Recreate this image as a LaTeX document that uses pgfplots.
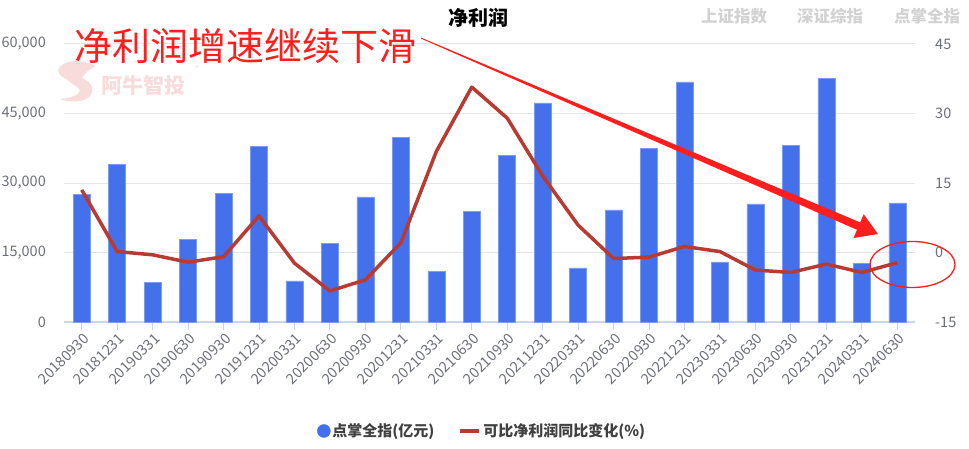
\documentclass[border=0pt]{standalone}
\usepackage{pgfplots}
\pgfplotsset{compat=1.18}
\usepackage{pgfplotstable}
\usepackage{fontspec}
\setmainfont{Noto Sans CJK SC}
\definecolor{barblue}{HTML}{4470EC}
\definecolor{linered}{HTML}{B83B33}
\definecolor{gridc}{HTML}{E6E6E6}
\definecolor{axc}{HTML}{CCD6EB}
\definecolor{labc}{HTML}{6E7079}
\definecolor{tabc}{HTML}{D2D2D2}
\definecolor{wm}{HTML}{F8DCDC}
\definecolor{annred}{HTML}{FF1E1E}

\pgfplotstableread{
x bar line
0 27600 13.5
1 34100 0.2
2 8600 -0.5
3 17900 -2.1
4 27800 -0.9
5 37900 7.9
6 8900 -2.3
7 16900 -8.3
8 27000 -5.9
9 39800 2.1
10 10900 21.8
11 23900 35.7
12 35900 29.0
13 47300 16.5
14 11700 5.9
15 24200 -1.3
16 37400 -1.0
17 51800 1.3
18 13000 0.2
19 25500 -3.8
20 38200 -4.3
21 52600 -2.5
22 12700 -4.3
23 25700 -2.2
}\data

\begin{document}
\begin{tikzpicture}
\path[use as bounding box] (0,0) rectangle (969pt,448pt);
\begin{axis}[
  at={(64pt,126pt)}, anchor=south west, scale only axis,
  width=851pt, height=278pt,
  xmin=-0.5, xmax=23.5, ymin=0, ymax=60000,
  scaled y ticks=false,
  axis lines*=left,
  y axis line style={draw=none},
  x axis line style={draw=axc, line width=1.5pt},
  xtick={0,...,23},
  xticklabels={20180930,20181231,20190331,20190630,20190930,20191231,20200331,20200630,20200930,20201231,20210331,20210630,20210930,20211231,20220331,20220630,20220930,20221231,20230331,20230630,20230930,20231231,20240331,20240630},
  xtick style={draw=axc, line width=1pt},
  major tick length=8pt, tick align=outside,
  ytick={0,15000,30000,45000,60000},
  yticklabels={0,{15,000},{30,000},{45,000},{60,000}},
  ytick style={draw=none},
  ymajorgrids, grid style={gridc, line width=1pt},
  xticklabel style={rotate=45, anchor=north east, text=labc, font=\fontsize{14.5}{14.5}\selectfont, inner sep=1pt, yshift=-1pt},
  yticklabel style={text=labc, font=\fontsize{14.5}{14.5}\selectfont, anchor=east, inner sep=0pt, xshift=-10pt},
  clip=false,
]
\addplot[ybar, bar width=17pt, fill=barblue, draw=barblue!70!white, line width=0.5pt] table[x=x,y=bar]{\data};
\end{axis}
\begin{axis}[
  at={(64pt,126pt)}, anchor=south west, scale only axis,
  width=851pt, height=278pt,
  xmin=-0.5, xmax=23.5, ymin=-15, ymax=45,
  axis y line*=right, axis x line=none,
  y axis line style={draw=none},
  ytick={-15,0,15,30,45},
  yticklabels={-15,0,15,30,45},
  ytick style={draw=none},
  major tick length=0pt,
  yticklabel style={text=labc, font=\fontsize{14.5}{14.5}\selectfont, anchor=west, inner sep=0pt, xshift=20pt},
  legend style={at={(axis description cs:0.4915,-0.392)}, anchor=center, draw=none, fill=none,
    legend columns=2, font=\fontsize{15}{15}\selectfont\bfseries, text=black!75,
    /tikz/every even column/.append style={column sep=22pt}},
  clip=false,
]
\addlegendimage{only marks, mark=*, mark size=6.5pt, barblue}
\addlegendentry{点掌全指(亿元)}
\addplot[linered, line width=3.5pt, line join=round,
  legend image code/.code={\draw[linered, line width=4pt] (0pt,0pt) -- (19pt,0pt);}]
  table[x=x,y=line]{\data};
\addlegendentry{可比净利润同比变化(\%)}
\end{axis}
\begin{scope}[x=1pt, y=-1pt, shift={(0pt,448pt)}]
  % watermark logo (stylised head)
  \fill[wm] (58,70) .. controls (62,60) and (80,58) .. (96,66) .. controls (88,70) and (84,74) .. (82,78)
     .. controls (92,82) and (96,90) .. (88,98) .. controls (80,103) and (68,102) .. (60,99)
     .. controls (70,98) and (80,95) .. (80,90) .. controls (78,86) and (70,84) .. (68,80)
     .. controls (64,78) and (58,76) .. cycle;
  \node[anchor=center, inner sep=0pt, text=wm, font=\fontsize{21}{21}\selectfont\bfseries] at (143,85) {阿牛智投};
  \node[anchor=center, inner sep=0pt, text=wm, font=\fontsize{8}{8}\selectfont] at (197,68) {®};
  % big red text
  \node[anchor=west, inner sep=0pt, text=annred, font=\fontsize{38}{38}\selectfont] at (74,46) {净利润增速继续下滑};
  % title
  \node[anchor=center, inner sep=0pt, font=\fontsize{20}{20}\selectfont\bfseries] at (478,18) {净利润};
  % tabs
  \node[anchor=center, inner sep=0pt, text=tabc, font=\fontsize{16.5}{16.5}\selectfont\bfseries] at (734,16) {上证指数};
  \node[anchor=center, inner sep=0pt, text=tabc, font=\fontsize{16.5}{16.5}\selectfont\bfseries] at (830,16) {深证综指};
  \node[anchor=center, inner sep=0pt, text=tabc, font=\fontsize{16.5}{16.5}\selectfont\bfseries] at (927,16) {点掌全指};
  % arrow
  \fill[annred] (421,37.6) -- (860.2,222.4) -- (863.7,214.2) -- (878,234) -- (853.5,238) -- (857,229.8) -- (421,38.6) -- cycle;
  % ellipse
  \draw[annred, line width=1.3pt] (912.5,264.5) ellipse [x radius=42.5, y radius=23];
\end{scope}
\end{tikzpicture}
\end{document}
